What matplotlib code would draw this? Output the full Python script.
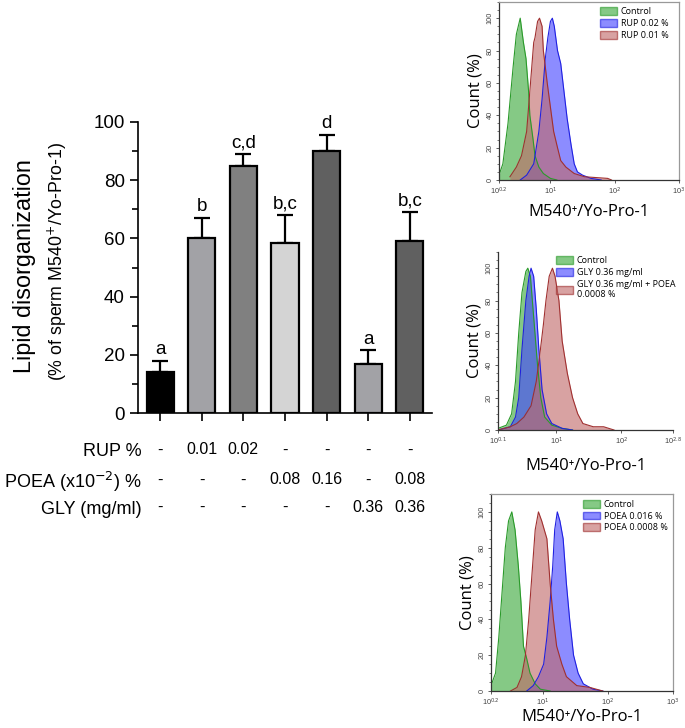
import numpy as np
import matplotlib
matplotlib.use("Agg")
import matplotlib.pyplot as plt
from matplotlib.patches import Patch
from matplotlib.ticker import MultipleLocator, FixedLocator, NullLocator

plt.rcParams['font.family'] = ['Liberation Sans', 'DejaVu Sans']

# ---- bar chart data ----
means = [14, 60, 85, 58.5, 90, 17, 59]
errs = [4, 7, 4, 9.5, 5.5, 4.5, 10]
letters = ['a', 'b', 'c,d', 'b,c', 'd', 'a', 'b,c']
bar_colors = ['#000000', '#a2a2a6', '#808080', '#d4d4d4', '#606060', '#a2a2a6', '#606060']
row_names = ['RUP %', 'POEA (x10$^{-2}$) %', 'GLY (mg/ml)']
rup = ['-', '0.01', '0.02', '-', '-', '-', '-']
poea = ['-', '-', '-', '0.08', '0.16', '-', '0.08']
gly = ['-', '-', '-', '-', '-', '0.36', '0.36']

# ---- histogram data (x in log10 units, y = count %) ----
p1_ctrl_x = [0.20, 0.26, 0.34, 0.42, 0.47, 0.53, 0.58, 0.62, 0.66, 0.68, 0.73, 0.76, 0.82, 0.89, 1.00, 1.10]
p1_ctrl_y = [3, 10, 35, 70, 90, 100, 85, 75, 55, 40, 25, 15, 8, 4, 1, 0]
p1_hi_x = [0.53, 0.63, 0.74, 0.82, 0.87, 0.92, 0.96, 1.00, 1.03, 1.06, 1.11, 1.16, 1.21, 1.26, 1.32, 1.37, 1.42, 1.50, 1.63, 1.79]
p1_hi_y = [0, 3, 10, 30, 50, 75, 88, 98, 100, 95, 80, 72, 55, 38, 22, 10, 5, 3, 1, 0]
p1_lo_x = [0.37, 0.47, 0.55, 0.63, 0.68, 0.74, 0.76, 0.80, 0.83, 0.87, 0.89, 0.95, 1.00, 1.05, 1.11, 1.16, 1.24, 1.37, 1.53, 1.89, 1.95]
p1_lo_y = [2, 8, 15, 30, 55, 85, 88, 98, 100, 95, 80, 60, 45, 30, 20, 12, 8, 4, 2, 1, 0]

p2_ctrl_x = [0.10, 0.23, 0.31, 0.37, 0.42, 0.47, 0.53, 0.56, 0.60, 0.65, 0.71, 0.76, 0.82, 0.93, 1.09, 1.25]
p2_ctrl_y = [1, 3, 10, 30, 60, 85, 98, 100, 95, 70, 40, 20, 8, 3, 1, 0]
p2_gly_x = [0.10, 0.29, 0.37, 0.42, 0.47, 0.53, 0.58, 0.61, 0.65, 0.69, 0.73, 0.78, 0.85, 0.93, 1.09, 1.25]
p2_gly_y = [0, 2, 8, 20, 50, 80, 95, 100, 95, 75, 50, 25, 10, 4, 1, 0]
p2_mix_x = [0.10, 0.29, 0.39, 0.50, 0.61, 0.69, 0.74, 0.80, 0.84, 0.89, 0.94, 0.98, 1.04, 1.09, 1.17, 1.25, 1.33, 1.41, 1.57, 1.73, 1.89]
p2_mix_y = [0, 2, 4, 8, 15, 30, 45, 65, 80, 95, 100, 95, 80, 55, 35, 20, 10, 4, 2, 2, 0]

p3_ctrl_x = [0.20, 0.27, 0.32, 0.37, 0.42, 0.47, 0.52, 0.57, 0.62, 0.66, 0.70, 0.75, 0.80, 0.88, 0.96, 1.11]
p3_ctrl_y = [3, 10, 30, 55, 80, 95, 100, 90, 70, 50, 25, 18, 10, 4, 1, 0]
p3_hi_x = [0.75, 0.85, 0.93, 1.01, 1.06, 1.11, 1.15, 1.18, 1.22, 1.26, 1.31, 1.36, 1.41, 1.47, 1.54, 1.62, 1.77, 1.92]
p3_hi_y = [0, 3, 8, 15, 30, 50, 70, 90, 100, 95, 85, 60, 40, 20, 10, 4, 1, 0]
p3_lo_x = [0.50, 0.60, 0.67, 0.73, 0.78, 0.83, 0.88, 0.93, 0.98, 1.06, 1.11, 1.16, 1.21, 1.29, 1.36, 1.52, 1.72, 1.92]
p3_lo_y = [0, 2, 8, 20, 40, 65, 90, 100, 95, 85, 60, 40, 25, 15, 8, 3, 2, 0]

W, H = 685, 728
fig = plt.figure(figsize=(W / 100, H / 100), dpi=100)

HIST_COLORS = [('#3aa83a', '#2a9a2a'), ('#4545ff', '#2020e0'), ('#c06a6a', '#a03030')]
CAL = ['Open Sans', 'DejaVu Sans']


def px_axes(left, right, top, bottom):
    return fig.add_axes([left / W, 1 - bottom / H, (right - left) / W, (bottom - top) / H])


# ---------------- bar chart ----------------
ax = px_axes(138, 432, 122, 413)
x = np.arange(len(means))
ax.bar(x, means, width=0.65, color=bar_colors, edgecolor='black', linewidth=1.6, zorder=2)
ax.errorbar(x, means, yerr=[np.zeros(len(errs)), errs], fmt='none', ecolor='black',
            elinewidth=1.6, capsize=6, capthick=1.6, zorder=1)
for xi, m, e, lab in zip(x, means, errs, letters):
    ax.text(xi, m + e + 1, lab, ha='center', va='bottom', fontsize=13.5)
ax.set_xlim(-0.53, 6.53)
ax.set_ylim(0, 100)
ax.yaxis.set_major_locator(MultipleLocator(20))
ax.yaxis.set_minor_locator(MultipleLocator(10))
ax.set_xticks(x)
ax.set_xticklabels([])
ax.tick_params(axis='both', which='major', length=6, width=1.2, labelsize=13.5)
ax.tick_params(axis='y', which='minor', length=4, width=1.2)
for s in ['top', 'right']:
    ax.spines[s].set_visible(False)
for s in ['left', 'bottom']:
    ax.spines[s].set_linewidth(1.2)

fig.text(25 / W, 1 - 266 / H, 'Lipid disorganization', rotation=90, ha='center', va='center', fontsize=16.8)
fig.text(57 / W, 1 - 262 / H, '(% of sperm M540$^{+}$/Yo-Pro-1)', rotation=90, ha='center', va='center',
         fontsize=12.8)

# condition table under the bars
row_y = [450, 480, 507]
for name, vals, ry in zip(row_names, [rup, poea, gly], row_y):
    fig.text(142 / W, 1 - (ry + 2) / H, name, ha='right', va='center', fontsize=13)
    for xi, v in zip(x, vals):
        xd = ax.transData.transform((xi, 0))[0] / fig.dpi / fig.get_figwidth()
        fig.text(xd, 1 - ry / H, v, ha='center', va='center', fontsize=11.5 if v != '-' else 12)


# ---------------- histograms ----------------
def hist_panel(box, xr, xticks, xlabels, curves, legend_labels, leg_anchor, boxed, xpad):
    hx = px_axes(*box)
    for (cx, cy), (fc, ec) in zip(curves, HIST_COLORS):
        xs = 10 ** np.array(cx)
        hx.fill_between(xs, cy, 0, color=fc, alpha=0.62, linewidth=0)
        hx.plot(xs, cy, color=ec, linewidth=0.8)
    hx.set_xscale('log')
    hx.set_xlim(10 ** xr[0], 10 ** xr[1])
    hx.set_ylim(0, 110)
    hx.xaxis.set_major_locator(FixedLocator([10 ** t for t in xticks]))
    hx.xaxis.set_minor_locator(NullLocator())
    hx.set_xticklabels(xlabels)
    hx.set_yticks([0, 20, 40, 60, 80, 100])
    hx.yaxis.set_minor_locator(MultipleLocator(5))
    plt.setp(hx.get_yticklabels(), rotation=90, va='center')
    hx.tick_params(axis='both', which='major', labelsize=5.3, colors='#444444', length=2.5, width=0.6, pad=1.5)
    hx.tick_params(axis='y', which='minor', length=1.2, width=0.5, colors='#444444')
    for s in ['left', 'bottom']:
        hx.spines[s].set_linewidth(0.9)
        hx.spines[s].set_color('#333333')
    for s in ['top', 'right']:
        if boxed:
            hx.spines[s].set_color('#999999')
            hx.spines[s].set_linewidth(0.9)
        else:
            hx.spines[s].set_visible(False)
    hx.set_ylabel('Count (%)', fontsize=12, family=CAL, labelpad=2)
    hx.set_xlabel('M540⁺/Yo-Pro-1', fontsize=12, family=CAL, labelpad=xpad)
    handles = [Patch(facecolor=fc, edgecolor=ec, alpha=0.62) for fc, ec in HIST_COLORS]
    hx.legend(handles, legend_labels, loc='upper left', bbox_to_anchor=leg_anchor, frameon=False,
              handlelength=1.9, handleheight=0.95, handletextpad=0.4, labelspacing=0.3,
              borderaxespad=0, borderpad=0, prop={'family': CAL, 'size': 6.5})
    return hx


hist_panel((499, 679, 2, 180), (0.2, 3.0), [0.2, 1, 2, 3],
           ['10$^{0.2}$', '10$^{1}$', '10$^{2}$', '10$^{3}$'],
           [(p1_ctrl_x, p1_ctrl_y), (p1_hi_x, p1_hi_y), (p1_lo_x, p1_lo_y)],
           ['Control', 'RUP 0.02 %', 'RUP 0.01 %'], (0.56, 0.97), True, 5)

hist_panel((498, 673, 252, 430), (0.1, 2.8), [0.1, 1, 2, 2.8],
           ['10$^{0.1}$', '10$^{1}$', '10$^{2}$', '10$^{2.8}$'],
           [(p2_ctrl_x, p2_ctrl_y), (p2_gly_x, p2_gly_y), (p2_mix_x, p2_mix_y)],
           ['Control', 'GLY 0.36 mg/ml', 'GLY 0.36 mg/ml + POEA\n0.0008 %'], (0.33, 0.975), False, 8)

hist_panel((491, 673, 494, 691), (0.2, 3.0), [0.2, 1, 2, 3],
           ['10$^{0.2}$', '10$^{1}$', '10$^{2}$', '10$^{3}$'],
           [(p3_ctrl_x, p3_ctrl_y), (p3_hi_x, p3_hi_y), (p3_lo_x, p3_lo_y)],
           ['Control', 'POEA 0.016 %', 'POEA 0.0008 %'], (0.505, 0.97), True, 0.5)

fig.savefig('out.png', dpi=100)
